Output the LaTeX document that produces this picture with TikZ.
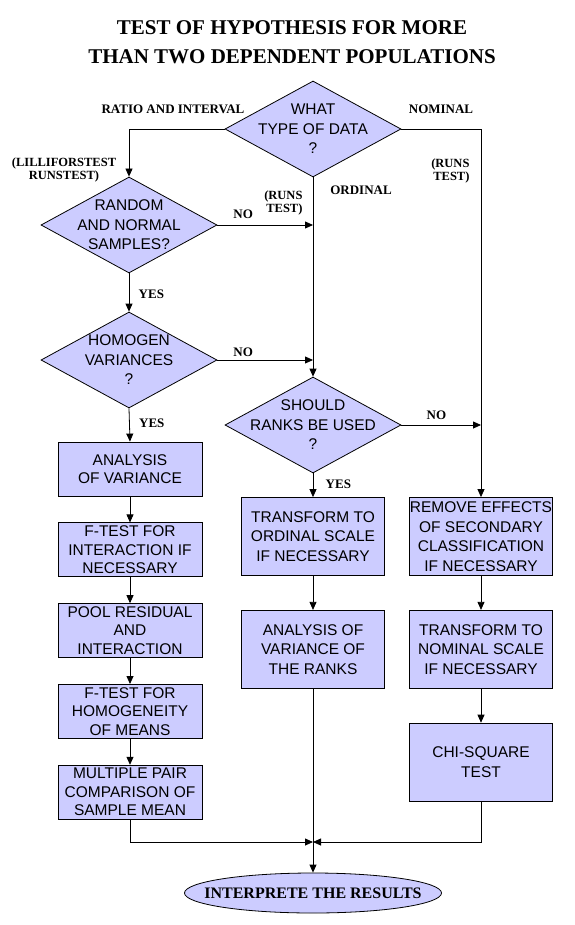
\documentclass[tikz,border=0pt]{standalone}
\usepackage{fontspec}
\setmainfont{Liberation Serif}
\setsansfont{Liberation Sans}
\usepackage{tikz}
\usetikzlibrary{arrows.meta,shapes.geometric,positioning}
\definecolor{lavender}{RGB}{204,204,255}
\tikzset{
    %Define standard arrow tip
    >={Triangle[length=8pt,width=7pt]},
    %Define style for boxes
    stepbox/.style={
           rectangle,
           draw=black, line width=0.8pt,
           fill=lavender,
           minimum width=143pt,
           minimum height=78pt,
           inner xsep=0pt,
           inner ysep=0pt,
           font=\sffamily\fontsize{15.5}{19.5}\selectfont,
           align=center},
    shortbox/.style={
           stepbox,
           minimum width=144pt,
           minimum height=54pt,
           font=\sffamily\fontsize{15.5}{18.5}\selectfont},
    decision/.style={
           diamond,
           draw=black, line width=0.8pt,
           fill=lavender,
           minimum width=176pt,
           minimum height=96pt,
           inner sep=0pt},
    dectext/.style={
           font=\sffamily\fontsize{15.5}{19.5}\selectfont,
           align=center},
    terminal/.style={
           ellipse,
           draw=black, line width=0.8pt,
           fill=lavender,
           minimum width=257pt,
           minimum height=40pt,
           inner sep=0pt},
    termtext/.style={
           font=\bfseries\fontsize{16}{18}\selectfont},
    %Define style for labels
    lbl/.style={
           font=\bfseries\fontsize{13}{14}\selectfont},
    note/.style={
           font=\bfseries\fontsize{12.5}{13.5}\selectfont,
           align=center},
    % Define arrow style
    pil/.style={
           ->,
           line width=0.8pt}
}

\begin{document}
\begin{tikzpicture}[x=1pt,y=-1pt,node distance=26pt]
\useasboundingbox (0,0) rectangle (574,925);
 %title
\node[font=\bfseries\fontsize{21}{29}\selectfont, align=center] (title) at (292,42)
    {TEST OF HYPOTHESIS FOR MORE\\THAN TWO DEPENDENT POPULATIONS};
 %decisions
\node[decision, label={[dectext]center:WHAT\\TYPE OF DATA\\?}] (type) at (313,129) {};
\node[decision, label={[dectext]center:RANDOM\\AND NORMAL\\SAMPLES?}] (random) at (129,225) {};
\node[decision, label={[dectext]center:HOMOGEN\\VARIANCES\\?}] (homog) at (129,360) {};
\node[decision, label={[dectext]center:SHOULD\\RANKS BE USED\\?}] (ranks) at (313,425) {};
 %left column
\node[shortbox] (anova) at (130,469) {ANALYSIS\\OF VARIANCE};
\node[shortbox, below=of anova] (finter) {F-TEST FOR\\INTERACTION IF\\NECESSARY};
\node[shortbox, below=of finter] (pool) {POOL RESIDUAL\\AND\\INTERACTION};
\node[shortbox, below=of pool] (fmeans) {F-TEST FOR\\HOMOGENEITY\\OF MEANS};
\node[shortbox, below=of fmeans] (multi) {MULTIPLE PAIR\\COMPARISON OF\\SAMPLE MEAN};
 %middle column
\node[stepbox] (ordscale) at (313,536.5) {TRANSFORM TO\\ORDINAL SCALE\\IF NECESSARY};
\node[stepbox, below=34pt of ordscale] (rankvar) {ANALYSIS OF\\VARIANCE OF\\THE RANKS};
 %right column
\node[stepbox] (remove) at (481,536.5) {REMOVE EFFECTS\\OF SECONDARY\\CLASSIFICATION\\IF NECESSARY};
\node[stepbox, below=34pt of remove] (nomscale) {TRANSFORM TO\\NOMINAL SCALE\\IF NECESSARY};
\node[stepbox, below=34pt of nomscale] (chi) {CHI-SQUARE\\TEST};
 %end
\node[terminal, label={[termtext]center:INTERPRETE THE RESULTS}] (result) at (313,893) {};
 %joins
\coordinate (j1) at (random.east -| type.south);
\coordinate (j2) at (homog.east -| type.south);
\coordinate (j3) at (ranks.east -| remove.north);
\coordinate (meet) at (313,842);
 %data labels
\node[lbl] (ratio) at (173,109) {RATIO AND INTERVAL};
\node[lbl] (nominal) at (441,109) {NOMINAL};
\node[lbl] (ordinal) at (361,190) {ORDINAL};
\node[note] (lillie) at (64,170) {(LILLIFORSTEST\\RUNSTEST)};
\node[note, align=right, anchor=east] (runsa) at (306,203) {(RUNS\\TEST)};
\node[note, align=right, anchor=east] (runsb) at (473,171) {(RUNS\\TEST)};
 %connectors
\draw[pil] (type.west) -| (random.north);
\draw[pil] (type.east) -| (remove.north);
\draw[pil] (type.south) -- (ranks.north);
\draw[pil] (random.east) -- node[lbl, above=3pt, pos=0.27] {NO} (j1);
\draw[pil] (homog.east) -- node[lbl, above=0pt, pos=0.27] {NO} (j2);
\draw[pil] (random.south) -- node[lbl, right=6pt, pos=0.55] {YES} (homog.north);
\draw[pil] (homog.south) -- node[lbl, right=6pt, pos=0.44] {YES} (anova.north);
\draw[pil] (ranks.east) -- node[lbl, above=2pt, pos=0.44] {NO} (j3);
\draw[pil] (ranks.south) -- node[lbl, right=9pt, pos=0.46] {YES} (ordscale.north);
\draw[pil] (anova) -- (finter);
\draw[pil] (finter) -- (pool);
\draw[pil] (pool) -- (fmeans);
\draw[pil] (fmeans) -- (multi);
\draw[pil] (ordscale) -- (rankvar);
\draw[pil] (remove) -- (nomscale);
\draw[pil] (nomscale) -- (chi);
\draw[pil] (multi.south) |- (meet);
\draw[pil] (chi.south) |- (meet);
\draw[pil] (rankvar.south) -- (result.north);
\end{tikzpicture}
\end{document}
